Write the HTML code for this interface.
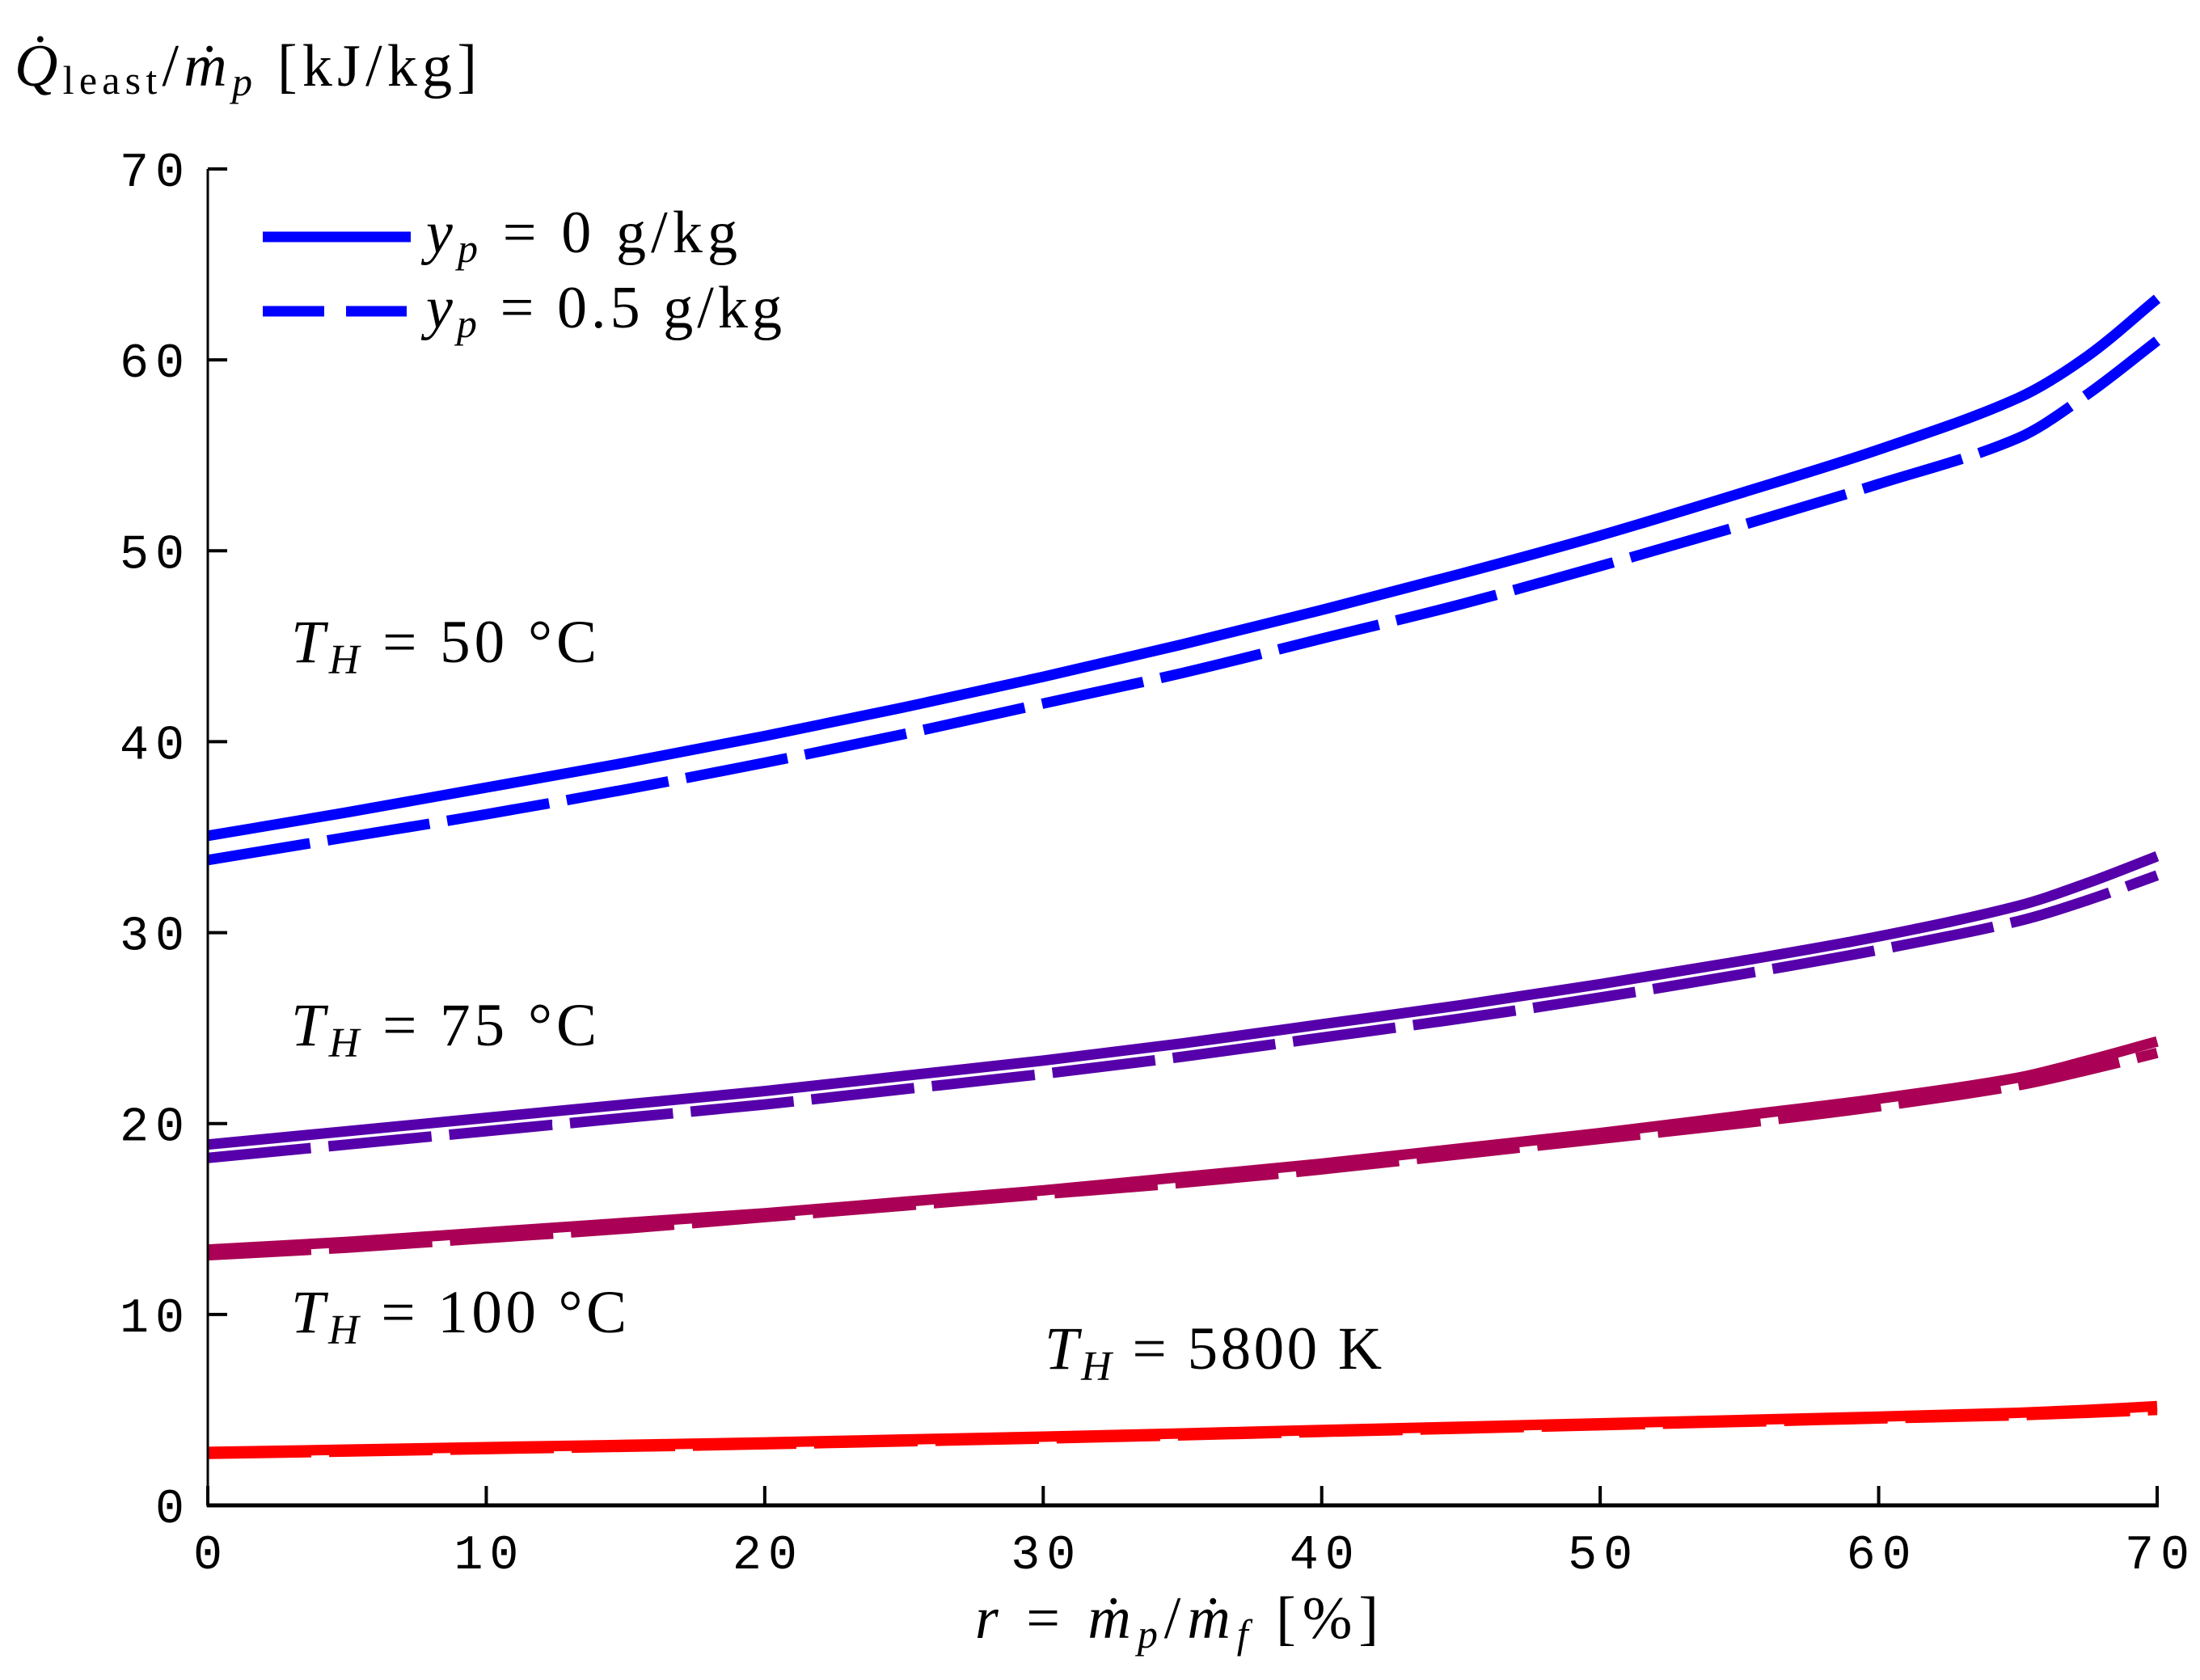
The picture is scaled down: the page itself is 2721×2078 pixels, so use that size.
<!DOCTYPE html>
<html><head><meta charset="utf-8"><style>
html,body{margin:0;padding:0;background:#fff;}
svg{display:block;}
.m{font-family:"Liberation Serif","DejaVu Serif",serif;}
.tick{font-family:"Liberation Mono","DejaVu Sans Mono",monospace;font-size:60px;letter-spacing:8px;}
</style></head><body>
<svg id="chart" width="2721" height="2078" viewBox="0 0 2721 2078" xmlns="http://www.w3.org/2000/svg">
<g id="plot"></g>
<g id="axes"></g>
<text class="m" x="18" y="106" font-size="74" textLength="572" lengthAdjust="spacing"><tspan font-style="italic">Q̇</tspan><tspan font-size="50" dy="10">least</tspan><tspan dy="-10">/</tspan><tspan font-style="italic">ṁ</tspan><tspan font-style="italic" font-size="50" dy="12">p</tspan><tspan dy="-12"> [kJ/kg]</tspan></text>
<text class="m" x="1206" y="2026" font-size="74" textLength="499" lengthAdjust="spacing"><tspan font-style="italic">r</tspan> = <tspan font-style="italic">ṁ</tspan><tspan font-style="italic" font-size="50" dy="12">p</tspan><tspan dy="-12">/</tspan><tspan font-style="italic">ṁ</tspan><tspan font-style="italic" font-size="50" dy="12">f</tspan><tspan dy="-12"> [%]</tspan></text>
<g>
<line x1="325" y1="293" x2="508" y2="293" stroke="#0000ff" stroke-width="13"/>
<text class="m" x="527" y="312" font-size="74" textLength="385" lengthAdjust="spacing"><tspan font-style="italic">y</tspan><tspan font-style="italic" font-size="50" dy="12">p</tspan><tspan dy="-12"> = 0 g/kg</tspan></text>
<line x1="325" y1="385" x2="503" y2="385" stroke="#0000ff" stroke-width="13" stroke-dasharray="76 27"/>
<text class="m" x="527" y="405" font-size="74" textLength="440" lengthAdjust="spacing"><tspan font-style="italic">y</tspan><tspan font-style="italic" font-size="50" dy="12">p</tspan><tspan dy="-12"> = 0.5 g/kg</tspan></text>
</g>
<text class="m" x="360" y="819" font-size="75" textLength="378" lengthAdjust="spacing"><tspan font-style="italic">T</tspan><tspan font-style="italic" font-size="52" dy="14">H</tspan><tspan dy="-14"> = 50 °C</tspan></text>
<text class="m" x="360" y="1293" font-size="75" textLength="378" lengthAdjust="spacing"><tspan font-style="italic">T</tspan><tspan font-style="italic" font-size="52" dy="14">H</tspan><tspan dy="-14"> = 75 °C</tspan></text>
<text class="m" x="360" y="1648" font-size="75" textLength="415" lengthAdjust="spacing"><tspan font-style="italic">T</tspan><tspan font-style="italic" font-size="52" dy="14">H</tspan><tspan dy="-14"> = 100 °C</tspan></text>
<text class="m" x="1292" y="1693" font-size="75" textLength="417" lengthAdjust="spacing"><tspan font-style="italic">T</tspan><tspan font-style="italic" font-size="52" dy="14">H</tspan><tspan dy="-14"> = 5800 K</tspan></text>
</svg>
<script>
const xs = [0,5,10,15,20,25,30,35,40,45,50,55,60,65,67.5,70];
const blueSolid = [35.07,36.3,37.6,38.9,40.3,41.8,43.4,45.1,46.9,48.8,50.8,53.0,55.3,58.0,60.2,63.2];
const blueDashed = [33.8,35.0,36.2,37.5,38.9,40.4,42.0,43.6,45.4,47.2,49.2,51.3,53.5,55.9,58.2,61.0];
const purpleSolid = [18.9,19.6,20.3,21.0,21.7,22.5,23.3,24.2,25.2,26.2,27.3,28.5,29.8,31.4,32.6,34.0];
const purpleDashed = [18.2,18.9,19.6,20.3,21.0,21.8,22.6,23.5,24.5,25.5,26.6,27.8,29.1,30.6,31.7,33.0];
const crimsonSolid = [13.4,13.8,14.3,14.8,15.3,15.9,16.5,17.2,17.9,18.7,19.5,20.4,21.3,22.4,23.3,24.3];
const crimsonDashed = [13.1,13.5,14.0,14.5,15.1,15.7,16.3,16.9,17.6,18.4,19.2,20.0,20.9,22.0,22.8,23.7];
const redSolid = [2.8,2.92,3.05,3.17,3.3,3.45,3.6,3.77,3.95,4.12,4.3,4.47,4.65,4.85,5.0,5.2];
const redDashed = [2.7,2.82,2.95,3.07,3.2,3.35,3.5,3.67,3.85,4.02,4.2,4.37,4.55,4.72,4.85,5.0];
const xTicks = [0,10,20,30,40,50,60,70];
const yTicks = [0,10,20,30,40,50,60,70];

const X0=257, X1=2668, Y0=1862, Y1=209;
function sx(v){return X0+(v-0)/(70-0)*(X1-X0);}
function sy(v){return Y0-(v-0)/(70-0)*(Y0-Y1);}
const NS="http://www.w3.org/2000/svg";
const plot=document.getElementById('plot'), axes=document.getElementById('axes');

function pathFor(ys){
  const n=xs.length, m=[];
  for(let i=0;i<n;i++){
    const a=Math.max(i-1,0), b=Math.min(i+1,n-1);
    m.push((ys[b]-ys[a])/(xs[b]-xs[a]));
  }
  let d='M'+sx(xs[0])+','+sy(ys[0]);
  for(let i=0;i<n-1;i++){
    const h=xs[i+1]-xs[i];
    d+=' C'+sx(xs[i]+h/3)+','+sy(ys[i]+m[i]*h/3)+' '+sx(xs[i+1]-h/3)+','+sy(ys[i+1]-m[i+1]*h/3)+' '+sx(xs[i+1])+','+sy(ys[i+1]);
  }
  return d;
}
const series=[
 ['blue-dashed',blueDashed,'#0000ff',true],['blue-solid',blueSolid,'#0000ff',false],
 ['purple-dashed',purpleDashed,'#5500aa',true],['purple-solid',purpleSolid,'#5500aa',false],
 ['crimson-dashed',crimsonDashed,'#aa0055',true],['crimson-solid',crimsonSolid,'#aa0055',false],
 ['red-dashed',redDashed,'#ff0000',true],['red-solid',redSolid,'#ff0000',false]];
series.forEach(s=>{
  const el=document.createElementNS(NS,'path');
  el.setAttribute('d',pathFor(s[1]));
  el.setAttribute('fill','none');
  el.setAttribute('stroke',s[2]);
  el.setAttribute('stroke-width','13');
  if(s[3]) el.setAttribute('stroke-dasharray','128 22');
  
  
  plot.appendChild(el);
});
function mk(tag,attrs){const e=document.createElementNS(NS,tag);for(const k in attrs)e.setAttribute(k,attrs[k]);return e;}
let e=mk('line',{x1:X0,y1:Y1,x2:X0,y2:Y0+2,stroke:'#000','stroke-width':3});


axes.appendChild(e);
e=mk('line',{x1:X0-1,y1:Y0,x2:X1+2,y2:Y0,stroke:'#000','stroke-width':5});


axes.appendChild(e);
yTicks.forEach(v=>{
  let t=mk('line',{x1:X0,y1:sy(v),x2:X0+24,y2:sy(v),stroke:'#000','stroke-width':4});
  
  
  axes.appendChild(t);
  let l=mk('text',{x:236,y:sy(v)+21,'text-anchor':'end','class':'tick'});
  l.textContent=String(v);
  
  
  axes.appendChild(l);
});
xTicks.forEach(v=>{
  let t=mk('line',{x1:sx(v),y1:Y0,x2:sx(v),y2:Y0-24,stroke:'#000','stroke-width':4});
  
  
  axes.appendChild(t);
  let l=mk('text',{x:sx(v)+4,y:1940,'text-anchor':'middle','class':'tick'});
  l.textContent=String(v);
  
  
  axes.appendChild(l);
});
</script>
</body></html>
